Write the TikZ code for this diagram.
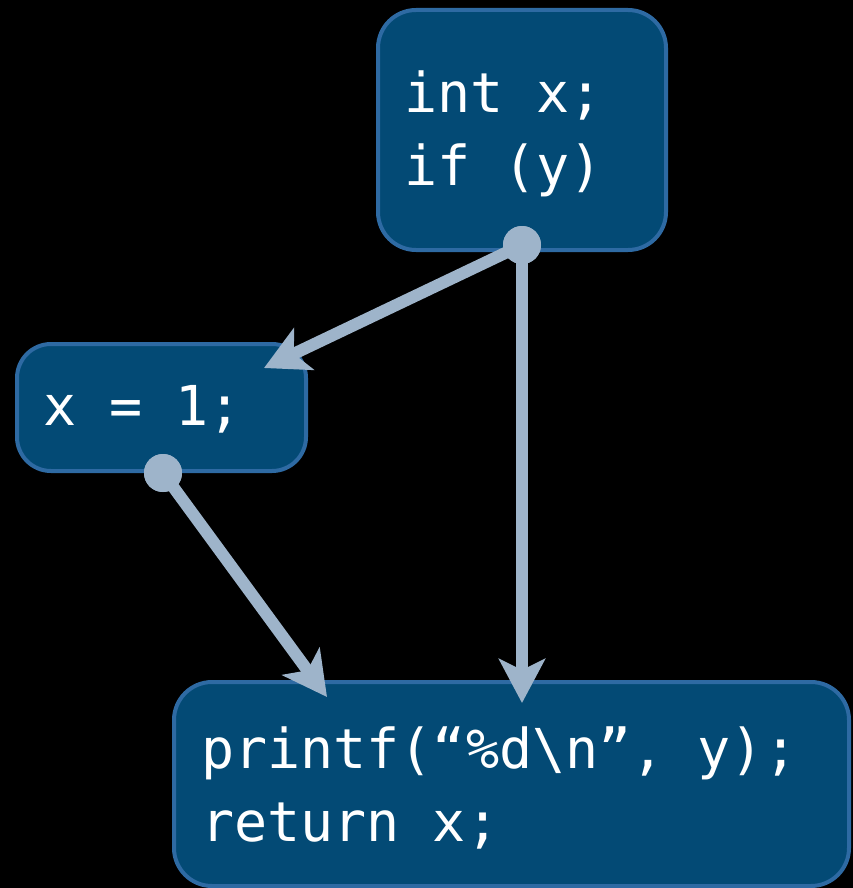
\documentclass[tikz,border=0pt]{standalone}
\usepackage{fontspec}
\newfontfamily\codefont{DejaVu Sans Mono}
\usetikzlibrary{arrows.meta}
\definecolor{boxfill}{RGB}{3,74,117}
\definecolor{boxline}{RGB}{46,106,163}
\definecolor{arrowcol}{RGB}{158,180,202}
\begin{document}
\begin{tikzpicture}[x=1pt,y=-1pt,
  codebox/.style={draw=boxline,fill=boxfill,line width=4pt,rounded corners=38pt},
  codetext/.style={anchor=base west,inner sep=0pt,text=white,align=left,
    font=\codefont\fontsize{55}{73}\selectfont},
  flow/.style={draw=arrowcol,line width=12pt,
    -{Stealth[length=44pt,width=46pt,inset=11pt]}},
  dot/.style={circle,fill=arrowcol,minimum size=38pt,inner sep=0pt}]
\fill[black] (0,0) rectangle (853,888);
\useasboundingbox (0,0) rectangle (853,888);
% boxes
\path[codebox] (378,10) rectangle (666,250);
\node[inner sep=0pt,minimum width=288pt,minimum height=240pt] (top) at (522,130) {};
\path[codebox,rounded corners=34pt] (17,344) rectangle (306,471);
\node[inner sep=0pt,minimum width=289pt,minimum height=127pt] (mid) at (161.5,407.5) {};
\path[codebox] (174,682) rectangle (849,886);
\node[inner sep=0pt,minimum width=675pt,minimum height=204pt] (bot) at (511.5,784) {};
% texts (base anchor = last line's baseline)
\node[codetext] (t1) at (404,185) {int x;\\if (y)};
\node[codetext] (t2) at (43,425) {x = 1;};
\node[codetext] (t3) at (201,841) {printf(“\%d\textbackslash n”, y);\\return x;};
% connectors
\node[dot] (d1) at (522,245) {};
\node[dot] (d2) at (163,473) {};
\coordinate (e1) at (264,368);
\coordinate (e2) at (327,697);
\coordinate (e3) at (522,703);
\draw[flow] (d1.center) -- (e1);
\draw[flow] (d1.center) -- (e3);
\draw[flow] (d2.center) -- (e2);
\node[dot] at (d1) {};
\node[dot] at (d2) {};
\end{tikzpicture}
\end{document}
